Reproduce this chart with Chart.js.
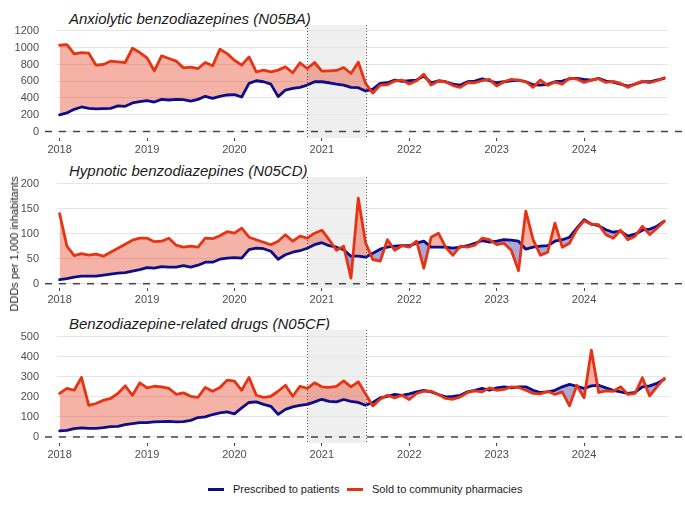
<!DOCTYPE html>
<html>
<head>
<meta charset="utf-8">
<script src="https://cdn.jsdelivr.net/npm/chart.js@4.4.1/dist/chart.umd.min.js"></script>
<style>
  body { margin: 0; background: #fff; font-family: "Liberation Sans", Arial, sans-serif; }
  #wrap { position: relative; width: 685px; height: 515px; overflow: hidden; }
  .panel { position: absolute; left: 0; }
  .title { position: absolute; left: 69px; font-size: 15px; font-style: italic; color: #1a1a1a; white-space: nowrap; line-height: 18px; }
  #ylab { position: absolute; left: 14px; top: 244px; transform: translate(-50%, -50%) rotate(-90deg); font-size: 11px; color: #1a1a1a; white-space: nowrap; }
  .sw { position: absolute; width: 16px; height: 3px; top: 488px; }
  .lt { position: absolute; top: 482px; font-size: 11px; color: #1a1a1a; white-space: nowrap; line-height: 14px; }
</style>
</head>
<body>
<div id="wrap">
  <div class="title" style="top:10px">Anxiolytic benzodiazepines (N05BA)</div>
  <div class="title" style="top:162px">Hypnotic benzodiazepines (N05CD)</div>
  <div class="title" style="top:315px">Benzodiazepine-related drugs (N05CF)</div>
  <canvas class="panel" id="c1"></canvas>
  <canvas class="panel" id="c2"></canvas>
  <canvas class="panel" id="c3"></canvas>
  <div id="ylab">DDDs per 1,000 inhabitants</div>
  <div class="sw" style="left:208px;background:#0d0d8c"></div>
  <div class="lt" style="left:233px">Prescribed to patients</div>
  <div class="sw" style="left:347px;background:#e63312"></div>
  <div class="lt" style="left:372px">Sold to community pharmacies</div>
</div>
<script>
// monthly series, Jan 2018 - Dec 2024
const months = [];
for (let y = 2018; y <= 2024; y++)
  for (let m = 1; m <= 12; m++) months.push(y + "-" + String(m).padStart(2, "0"));

const years = [2018, 2019, 2020, 2021, 2022, 2023, 2024];
const periodStart = "2020-11";
const periodEnd = "2021-07";

const seriesNames = ["Prescribed to patients", "Sold to community pharmacies"];

const anxPrescribed = [198,222,265,293,277,269,273,277,305,301,341,356,368,352,384,376,384,380,364,384,420,396,420,436,
  440,412,574,606,594,566,416,495,515,527,554,594,594,582,566,554,527,523,483,507,574,582,614,598,606,614,661,582,606,594,
  566,554,594,602,630,606,582,594,606,614,594,558,554,562,594,602,630,634,622,614,634,602,590,566,543,566,594,594,614,634];
const anxSold = [1030,1037,927,942,935,792,800,840,832,824,994,943,879,725,903,871,840,760,768,752,824,784,982,930,
  851,792,891,713,733,713,733,772,701,820,752,824,721,725,729,764,693,828,575,459,554,558,602,614,566,606,685,554,602,594,
  548,527,582,582,606,622,543,594,622,614,594,527,614,550,590,566,638,626,586,614,630,586,598,574,527,566,602,582,606,641];

const hypPrescribed = [8,10,13,15,15,15,17,19,21,22,25,28,32,31,34,33,33,36,33,37,43,43,49,51,
  52,51,68,71,70,65,49,58,63,66,71,78,82,76,73,68,55,55,53,61,69,73,75,76,76,81,85,73,73,73,
  71,73,76,81,86,83,85,88,87,85,69,73,75,76,85,88,93,111,128,119,116,108,103,105,95,99,107,109,115,125];
const hypSold = [140,75,56,60,57,59,55,63,71,79,87,91,91,84,85,91,77,73,75,73,91,90,96,104,
  101,111,93,88,83,78,85,98,85,95,91,101,107,88,67,75,11,171,82,48,45,88,67,76,73,85,31,93,101,73,
  57,75,73,77,91,88,78,81,67,26,145,88,57,63,121,73,81,108,126,119,118,98,91,107,88,95,115,98,111,125];

const relPrescribed = [30,33,42,45,43,43,47,52,53,62,67,72,72,75,77,78,75,77,83,97,100,112,120,125,
  115,145,172,175,163,153,113,138,150,158,163,175,188,178,175,187,178,172,158,172,195,203,212,208,215,225,232,225,212,200,
  203,208,225,233,242,233,245,250,245,250,250,233,222,225,233,250,262,253,242,255,258,245,233,225,217,222,250,255,267,288];
const relSold = [217,242,233,297,158,167,183,192,217,255,208,270,245,253,250,242,213,220,203,198,247,228,247,283,
  278,233,297,208,198,203,228,258,203,253,242,270,250,247,252,280,250,275,215,155,188,208,195,208,187,217,228,228,212,192,
  188,200,222,230,225,245,233,237,250,247,233,217,215,228,212,225,155,258,195,433,222,230,228,250,213,217,295,205,250,292];

const BLUE = "#0d0d8c";
const RED = "#e63312";

function monthToX(s) {
  const [y, m] = s.split("-").map(Number);
  return y + (m - 1) / 12;
}

const decor = {
  id: "decor",
  beforeDraw(chart) {
    const { ctx, chartArea: a, scales: { x } } = chart;
    const x0 = x.getPixelForValue(monthToX(periodStart));
    const x1 = x.getPixelForValue(monthToX(periodEnd));
    ctx.save();
    ctx.fillStyle = "#efefef";
    ctx.fillRect(x0, a.top, x1 - x0, a.bottom - a.top);
    ctx.restore();
  },
  afterDraw(chart) {
    const { ctx, chartArea: a, scales: { x, y } } = chart;
    ctx.save();
    ctx.strokeStyle = "#555";
    ctx.lineWidth = 1;
    ctx.setLineDash([1, 2]);
    [periodStart, periodEnd].forEach(p => {
      const px = Math.round(x.getPixelForValue(monthToX(p))) + 0.5;
      ctx.beginPath();
      ctx.moveTo(px, a.top);
      ctx.lineTo(px, a.bottom);
      ctx.stroke();
    });
    const py = y.getPixelForValue(0);
    ctx.strokeStyle = "#444";
    ctx.lineWidth = 1.5;
    ctx.setLineDash([7, 7]);
    ctx.beginPath();
    ctx.moveTo(45, py);
    ctx.lineTo(685, py);
    ctx.stroke();
    ctx.restore();
  }
};

function makePanel(id, areaTop, areaBottom, yMin, yMax, yTicks, prescribed, sold) {
  const canvas = document.getElementById(id);
  const top = areaTop - 3;
  const h = Math.round(areaBottom + 22 - top);
  canvas.width = 685;
  canvas.height = h;
  canvas.style.top = top + "px";
  canvas.style.width = "685px";
  canvas.style.height = h + "px";

  const xs = months.map(monthToX);
  new Chart(canvas, {
    type: "line",
    data: {
      datasets: [
        {
          label: seriesNames[1],
          data: sold.map((v, i) => ({ x: xs[i], y: v })),
          borderColor: RED,
          borderWidth: 2.8,
          borderJoinStyle: "round",
          borderCapStyle: "round",
          pointRadius: 0,
          fill: { target: 1, above: "rgba(230,55,25,0.38)", below: "rgba(20,20,140,0.36)" }
        },
        {
          label: seriesNames[0],
          data: prescribed.map((v, i) => ({ x: xs[i], y: v })),
          borderColor: BLUE,
          borderWidth: 2.8,
          borderJoinStyle: "round",
          borderCapStyle: "round",
          pointRadius: 0,
          fill: false
        }
      ]
    },
    options: {
      responsive: false,
      animation: false,
      layout: { padding: { top: 3, right: 17, left: 0, bottom: 0 } },
      plugins: {
        legend: { display: false },
        tooltip: { enabled: false },
        filler: { drawTime: "beforeDatasetsDraw" }
      },
      scales: {
        x: {
          type: "linear",
          min: 2017.97,
          max: 2024.96,
          afterFit: s => { s.height = 22; s.paddingLeft = 0; s.paddingRight = 0; },
          afterBuildTicks: s => { s.ticks = years.map(v => ({ value: v })); },
          border: { display: false },
          grid: { drawOnChartArea: false, drawTicks: true, tickLength: 3, color: "#444" },
          ticks: {
            autoSkip: false, maxRotation: 0, padding: 2,
            color: "#4d4d4d", font: { size: 11, family: "Liberation Sans" },
            callback: v => String(v)
          }
        },
        y: {
          min: yMin,
          max: yMax,
          afterFit: s => { s.width = 57; s.paddingTop = 0; s.paddingBottom = 0; },
          afterBuildTicks: s => { s.ticks = yTicks.map(v => ({ value: v })); },
          border: { display: false },
          grid: { color: "#e6e6e6", drawTicks: false, tickLength: 0 },
          ticks: {
            padding: 18,
            color: "#4d4d4d", font: { size: 11, family: "Liberation Sans" },
            callback: v => String(v)
          }
        }
      }
    },
    plugins: [decor]
  });
}

makePanel("c1", 25, 138, -77.6, 1271.6, [0, 200, 400, 600, 800, 1000, 1200], anxPrescribed, anxSold);
makePanel("c2", 177.3, 288.3, -8.6, 213.4, [0, 50, 100, 150, 200], hypPrescribed, hypSold);
makePanel("c3", 330, 442.7, -30, 533.5, [0, 100, 200, 300, 400, 500], relPrescribed, relSold);
</script>
</body>
</html>
